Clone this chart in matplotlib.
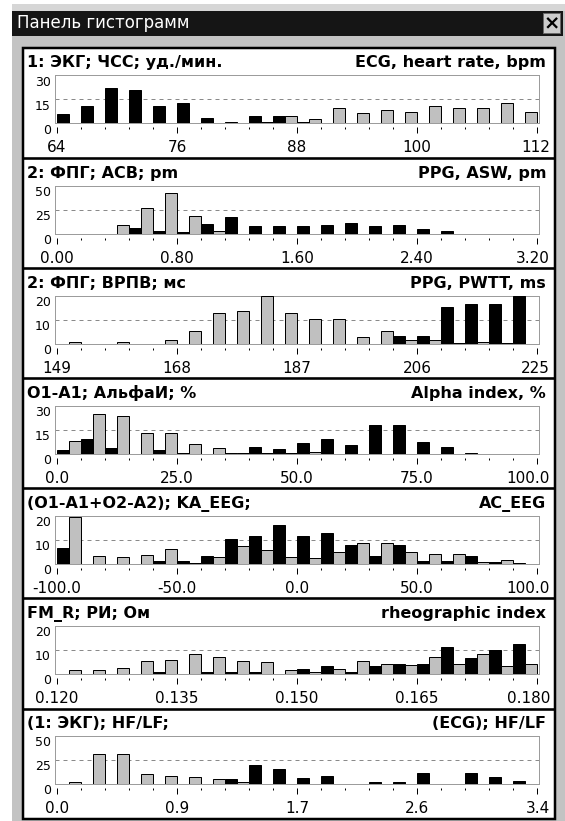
import matplotlib

matplotlib.use("Agg")

import matplotlib.pyplot as plt
import numpy as np
from matplotlib.patches import Rectangle
from matplotlib.transforms import offset_copy

plt.rcParams["font.family"] = ["DejaVu Sans"]

W, H = 565, 821

WINDOW_TITLE = "Панель гистограмм"

LEFT_TITLES = [
    "1: ЭКГ; ЧСС; уд./мин.",
    "2: ФПГ; АСВ; pm",
    "2: ФПГ; ВРПВ; мс",
    "O1-A1; АльфаИ; %",
    "(O1-A1+O2-A2); KA_EEG;",
    "FM_R; РИ; Ом",
    "(1: ЭКГ); HF/LF;",
]
RIGHT_TITLES = [
    "ECG, heart rate, bpm",
    "PPG, ASW, pm",
    "PPG, PWTT, ms",
    "Alpha index, %",
    "AC_EEG",
    "rheographic index",
    "(ECG); HF/LF",
]

X_RANGES = [(64, 112), (0.0, 3.2), (149, 225), (0.0, 100.0), (-100.0, 100.0), (0.120, 0.180), (0.0, 3.4)]
X_TICK_LABELS = [
    ["64", "76", "88", "100", "112"],
    ["0.00", "0.80", "1.60", "2.40", "3.20"],
    ["149", "168", "187", "206", "225"],
    ["0.0", "25.0", "50.0", "75.0", "100.0"],
    ["-100.0", "-50.0", "0.0", "50.0", "100.0"],
    ["0.120", "0.135", "0.150", "0.165", "0.180"],
    ["0.0", "0.9", "1.7", "2.6", "3.4"],
]
Y_MAX = [30, 50, 20, 30, 20, 20, 50]
Y_TICK_LABELS = [
    ["0", "15", "30"],
    ["0", "25", "50"],
    ["0", "10", "20"],
    ["0", "15", "30"],
    ["0", "10", "20"],
    ["0", "10", "20"],
    ["0", "25", "50"],
]

# 20 bins per panel; black = first series, gray = second series
HR_BLACK = [6, 11, 22, 21, 11, 12.5, 3.5, 1, 4.5, 4.5, 1, 0, 0, 0, 0, 0, 0, 0, 0, 0]
HR_GRAY = [0, 0, 0, 0, 0, 0, 0, 0, 0.8, 4.5, 2.8, 9.4, 6.6, 8.4, 7.4, 11, 9.4, 9.4, 12.6, 7.4]
ASW_BLACK = [0, 0, 0, 6, 3, 1.5, 10, 17.6, 7.4, 7.4, 7.4, 9, 11.5, 7.4, 9, 4.4, 3, 0, 0, 0]
ASW_GRAY = [0, 0, 9, 27, 42, 18.6, 3, 0, 0, 0, 0, 0, 0, 0, 0, 0, 0, 0, 0, 0]
PWTT_BLACK = [0, 0, 0, 0, 0, 0, 0, 0, 0, 0, 0, 0, 0, 0, 3.3, 3.3, 15.4, 16.6, 16.6, 20]
PWTT_GRAY = [0.6, 0, 0.6, 0, 1.4, 5.1, 12.9, 13.6, 20, 12.9, 10.4, 10.4, 2.6, 5.1, 1.4, 1.4, 0.3, 0.9, 0.3, 0]
ALPHA_BLACK = [2.3, 9, 3.9, 0, 2.3, 0.6, 0, 0.6, 4.1, 3, 6.6, 9, 5.7, 17.9, 17.9, 7.4, 4.1, 0.6, 0, 0]
ALPHA_GRAY = [7.8, 24.6, 23.6, 13.3, 13.3, 6.4, 3.9, 0.6, 0.6, 0.6, 1.2, 0, 0, 0, 0, 0, 0, 0, 0, 0]
ACEEG_BLACK = [6.7, 0, 0, 0, 1.1, 1.1, 3.2, 10.5, 11.6, 16.2, 11.6, 12.7, 8, 3.2, 8, 1.1, 1.1, 3.2, 0.8, 0.4]
ACEEG_GRAY = [19.6, 3.2, 2.7, 3.8, 6.3, 0.4, 3, 7.4, 5.7, 3, 2.5, 5, 8.5, 8.5, 5, 4.3, 4.3, 0.8, 1.5, 0]
RI_BLACK = [0, 0, 0, 0, 1, 0, 1, 1, 1, 0, 2, 3.2, 1, 3.2, 4.2, 4.2, 11.4, 6.8, 10, 12.5]
RI_GRAY = [1.5, 1.5, 2.6, 5.5, 6, 8.4, 7.1, 5.5, 4.9, 1.5, 1, 2, 5.6, 4.1, 3.6, 7, 4.2, 8.4, 3.2, 4.2]
HFLF_BLACK = [0, 0, 0, 0, 0, 0, 0, 5.7, 20.3, 15.9, 6, 8.8, 0, 1.7, 1.7, 11.8, 0, 11.8, 7.8, 3.4]
HFLF_GRAY = [1.7, 31.4, 31.4, 11, 8.4, 7.4, 5.7, 2.7, 0, 0, 0, 0, 0, 0, 0, 0, 0, 0, 0, 0]

BLACK_SERIES = [HR_BLACK, ASW_BLACK, PWTT_BLACK, ALPHA_BLACK, ACEEG_BLACK, RI_BLACK, HFLF_BLACK]
GRAY_SERIES = [HR_GRAY, ASW_GRAY, PWTT_GRAY, ALPHA_GRAY, ACEEG_GRAY, RI_GRAY, HFLF_GRAY]

PX = 72.0 / 100.0  # points per pixel at dpi 100
PANEL_TOP = 48.0
PANEL_STEP = 110.1
FRAME_GRAY = "#9c9c9c"
BAR_GRAY = "#c0c0c0"


def fig_rect(x0, y_top, x1, y_bot):
    return [x0 / W, 1 - y_bot / H, (x1 - x0) / W, (y_bot - y_top) / H]


fig = plt.figure(figsize=(W / 100, H / 100), dpi=100, facecolor="white")

bg = fig.add_axes([0, 0, 1, 1], zorder=0)
bg.set_xlim(0, W)
bg.set_ylim(H, 0)
bg.axis("off")

# window chrome
bg.add_patch(Rectangle((12, 4), W - 12, H - 4, facecolor="#c3c3c3", edgecolor="none"))
bg.add_patch(Rectangle((12, 4), W - 12, 7, facecolor="#d6d6d6", edgecolor="none"))
bg.add_patch(Rectangle((12, 11), 551, 25, facecolor="#151515", edgecolor="none"))
bg.text(17, 28.5, WINDOW_TITLE, color="white", fontsize=12, va="baseline", ha="left")
bg.add_patch(Rectangle((543, 13), 17, 20, facecolor="#cdcdcd", edgecolor="#6a6a6a", linewidth=1 * PX))
bg.text(551.5, 23.5, "×", color="black", fontsize=14, fontweight="bold", ha="center", va="center")

# white panel area with black borders
bottom = PANEL_TOP + PANEL_STEP * 7
bg.add_patch(Rectangle((23, PANEL_TOP), 532, bottom - PANEL_TOP, facecolor="white",
                       edgecolor="black", linewidth=2.5 * PX))
for k in range(1, 7):
    y = PANEL_TOP + PANEL_STEP * k
    bg.plot([23, 555], [y, y], color="black", linewidth=2.6 * PX, solid_capstyle="butt")

for i in range(7):
    b = PANEL_TOP + PANEL_STEP * i
    bg.text(27, b + 19.5, LEFT_TITLES[i], fontsize=11.5, fontweight="bold", ha="left", va="baseline")
    bg.text(546, b + 19.5, RIGHT_TITLES[i], fontsize=11.5, fontweight="bold", ha="right", va="baseline")

    ax = fig.add_axes(fig_rect(55, b + 27.5, 539, b + 75.5), zorder=2)
    ax.patch.set_alpha(0)
    lo, hi = X_RANGES[i]
    nb = len(BLACK_SERIES[i])
    bw = (hi - lo) / nb
    pad = (hi - lo) * 2 / 480
    ax.set_xlim(lo - pad, hi + pad)
    ymax = Y_MAX[i]
    ax.set_ylim(0, ymax)

    edges = lo + bw * np.arange(nb)
    black = np.array(BLACK_SERIES[i], dtype=float)
    gray = np.array(GRAY_SERIES[i], dtype=float)
    mb = black > 0
    mg = gray > 0
    ax.bar(edges[mb], black[mb], width=bw / 2, align="edge", color="black",
           edgecolor="black", linewidth=1 * PX, zorder=3)
    ax.bar(edges[mg] + bw / 2, gray[mg], width=bw / 2, align="edge", color=BAR_GRAY,
           edgecolor="black", linewidth=1 * PX, zorder=3)

    ax.axhline(ymax / 2, color="#8a8a8a", linewidth=1 * PX, dashes=(4, 4), zorder=1)
    ax.axhline(0, color=FRAME_GRAY, linewidth=1 * PX, clip_on=False, zorder=2)

    for side in ("left", "top", "right"):
        ax.spines[side].set_color(FRAME_GRAY)
        ax.spines[side].set_linewidth(1 * PX)
    ax.spines["bottom"].set_position(("outward", 4 * PX))
    ax.spines["bottom"].set_visible(False)

    all_edges = lo + bw * np.arange(nb + 1)
    major = all_edges[::5]
    minor = np.array([e for j, e in enumerate(all_edges) if j % 5 != 0])
    ax.set_xticks(major)
    ax.set_xticks(minor, minor=True)
    ax.tick_params(axis="x", which="major", direction="out", length=6 * PX, width=1 * PX,
                   color="black", labelbottom=False)
    ax.tick_params(axis="x", which="minor", direction="out", length=2.5 * PX, width=1 * PX,
                   color="black", labelbottom=False)

    ax.set_yticks([0, ymax / 2, ymax], Y_TICK_LABELS[i])
    ax.tick_params(axis="y", length=0, pad=4 * PX, labelsize=9)
    for lbl in ax.get_yticklabels():
        lbl.set_verticalalignment("top")

    tr = offset_copy(ax.get_xaxis_transform(), fig=fig, y=-29, units="dots")
    labels = X_TICK_LABELS[i]
    for j, (pos, txt) in enumerate(zip(major, labels)):
        if j == len(labels) - 1:
            tr_last = offset_copy(ax.get_xaxis_transform(), fig=fig, x=13, y=-29, units="dots")
            ax.text(pos, 0, txt, transform=tr_last, ha="right", va="baseline", fontsize=11,
                    clip_on=False)
        else:
            ax.text(pos, 0, txt, transform=tr, ha="center", va="baseline", fontsize=11,
                    clip_on=False)

fig.savefig("out.png", dpi=100, facecolor="white")
